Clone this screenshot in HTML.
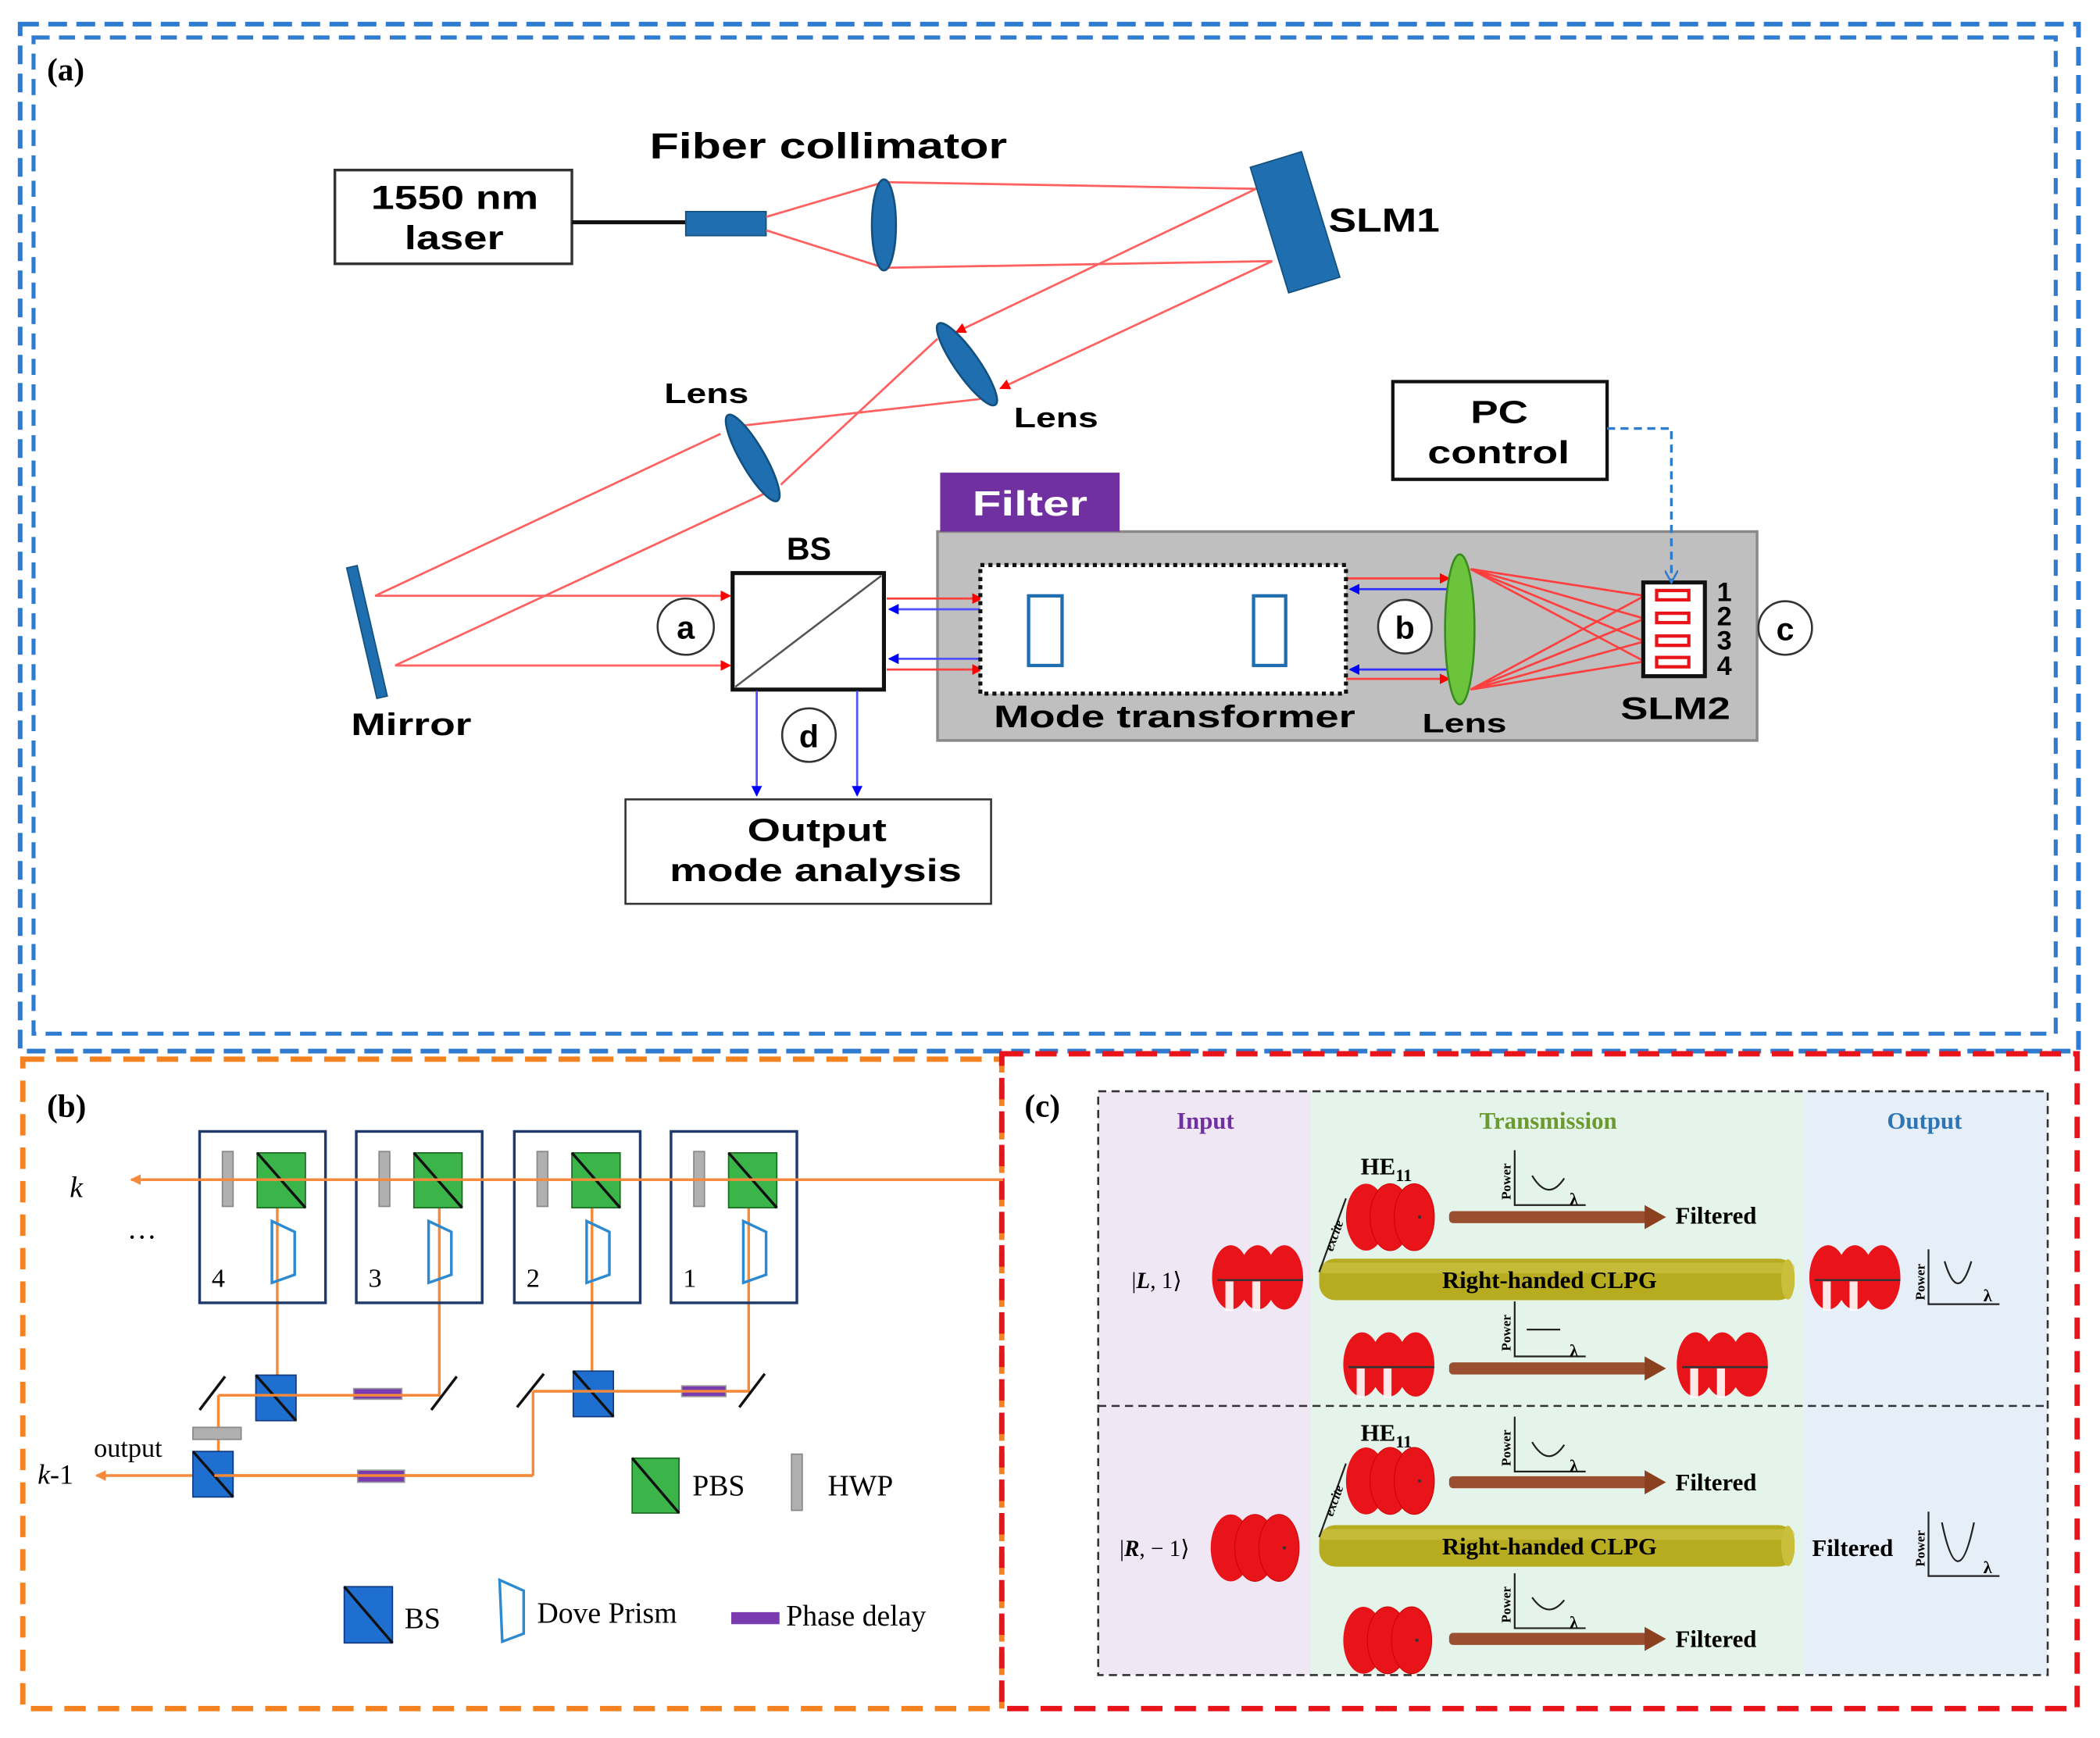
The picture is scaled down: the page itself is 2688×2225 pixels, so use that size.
<!DOCTYPE html>
<html><head><meta charset="utf-8"><style>
html,body{margin:0;padding:0;background:#fff}
svg{display:block}
.s{font-family:"Liberation Sans",sans-serif;font-weight:bold}
.r{font-family:"Liberation Serif",serif}
</style></head><body>
<svg width="2688" height="2225" viewBox="0 0 1568 1298" xmlns="http://www.w3.org/2000/svg">
<defs>
<marker id="ar" markerWidth="8" markerHeight="8" refX="7" refY="4" orient="auto" markerUnits="userSpaceOnUse"><path d="M0,0L8,4L0,8z" fill="#f00"/></marker>
<marker id="ab" markerWidth="8" markerHeight="8" refX="7" refY="4" orient="auto" markerUnits="userSpaceOnUse"><path d="M0,0L8,4L0,8z" fill="#00f"/></marker>
<marker id="ao" markerWidth="8" markerHeight="8" refX="7" refY="4" orient="auto" markerUnits="userSpaceOnUse"><path d="M0,0L8,4L0,8z" fill="#f58a3a"/></marker>
<marker id="abd" markerWidth="10" markerHeight="10" refX="8" refY="5" orient="auto" markerUnits="userSpaceOnUse"><path d="M0,0L9,5L0,10" fill="none" stroke="#2e7bd0" stroke-width="1.5"/></marker>
<g id="helix"><ellipse cx="12" cy="22" rx="14" ry="24" fill="#e8141a"/><ellipse cx="32" cy="22" rx="14" ry="24" fill="#e8141a"/><ellipse cx="52" cy="22" rx="14" ry="24" fill="#e8141a"/><line x1="2" y1="24" x2="66" y2="24" stroke="#333" stroke-width="1.5"/><rect x="8" y="25" width="6" height="22" fill="#fff" opacity="0.9"/><rect x="28" y="25" width="6" height="22" fill="#fff" opacity="0.9"/></g>
<g id="blob"><ellipse cx="14" cy="25" rx="15" ry="25" fill="#e8141a"/><ellipse cx="32" cy="25" rx="15" ry="25" fill="#e8141a" stroke="#c00" stroke-width="0.6"/><ellipse cx="50" cy="25" rx="15" ry="25" fill="#e8141a" stroke="#c00" stroke-width="0.6"/><circle cx="54" cy="25" r="1.2" fill="#333"/></g>
<g id="arr"><rect x="0" y="-4.5" width="148" height="9" fill="#9a5030" rx="3"/><path d="M146,-9L162,0L146,9z" fill="#8b4020"/></g>
<g id="cyl"><rect x="0" y="0" width="355" height="31" rx="12" fill="#b7ac1f"/><rect x="0" y="3" width="355" height="8" rx="4" fill="#cfc54a" opacity="0.6"/><ellipse cx="350" cy="15.5" rx="5" ry="15" fill="#c9bf3a"/></g>
</defs>

<!-- borders -->
<rect x="15" y="18" width="1537" height="767" fill="none" stroke="#2e7bd0" stroke-width="3.5" stroke-dasharray="14 7"/>
<rect x="25" y="28" width="1510" height="744" fill="none" stroke="#2e7bd0" stroke-width="3" stroke-dasharray="12 7"/>
<rect x="17" y="791" width="731" height="485" fill="none" stroke="#f58220" stroke-width="4" stroke-dasharray="16 9"/>
<rect x="748" y="787" width="803" height="489" fill="none" stroke="#e8141a" stroke-width="4" stroke-dasharray="16 9"/>

<!-- panel a -->
<text x="35" y="60" class="r" font-weight="bold" font-size="24">(a)</text>
<rect x="250" y="127" width="177" height="70" fill="#fff" stroke="#333" stroke-width="2"/>
<text x="277" y="156" class="s" font-size="25" textLength="125" lengthAdjust="spacingAndGlyphs">1550 nm</text>
<text x="302" y="186" class="s" font-size="25" textLength="74" lengthAdjust="spacingAndGlyphs">laser</text>
<line x1="427" y1="166" x2="512" y2="166" stroke="#111" stroke-width="3"/>
<rect x="512" y="158" width="60" height="18" fill="#1f6fb0" stroke="#12507f"/>
<text x="485" y="118" class="s" font-size="27" textLength="267" lengthAdjust="spacingAndGlyphs">Fiber collimator</text>
<g stroke="#ff6060" stroke-width="1.6" fill="none">
<line x1="572" y1="162" x2="660" y2="136"/><line x1="572" y1="172" x2="660" y2="200"/>
<line x1="660" y1="136" x2="938" y2="141"/><line x1="660" y1="200" x2="950" y2="195"/>
<line x1="938" y1="141" x2="714" y2="248" marker-end="url(#ar)"/>
<line x1="950" y1="195" x2="747" y2="290" marker-end="url(#ar)"/>
<line x1="700" y1="253" x2="583" y2="362"/><line x1="570" y1="369" x2="295" y2="497"/>
<line x1="732" y1="298" x2="553" y2="318"/><line x1="538" y1="324" x2="280" y2="445"/>
<line x1="280" y1="445" x2="545" y2="445" marker-end="url(#ar)"/>
<line x1="295" y1="497" x2="545" y2="497" marker-end="url(#ar)"/>
</g>
<ellipse cx="660" cy="168" rx="9" ry="34" fill="#1f6fb0" stroke="#12507f" stroke-width="1.5"/>
<rect x="947" y="117" width="40" height="98" fill="#1f6fb0" stroke="#12507f" transform="rotate(-17 967 166)"/>
<text x="992" y="173" class="s" font-size="25" textLength="83" lengthAdjust="spacingAndGlyphs">SLM1</text>
<ellipse cx="722" cy="272" rx="9" ry="37" fill="#1f6fb0" stroke="#12507f" stroke-width="1.5" transform="rotate(-35 722 272)"/>
<text x="757" y="319" class="s" font-size="21" textLength="63" lengthAdjust="spacingAndGlyphs">Lens</text>
<ellipse cx="562" cy="342" rx="9" ry="37" fill="#1f6fb0" stroke="#12507f" stroke-width="1.5" transform="rotate(-30 562 342)"/>
<text x="496" y="301" class="s" font-size="21" textLength="63" lengthAdjust="spacingAndGlyphs">Lens</text>
<rect x="270" y="422" width="8" height="100" fill="#1f6fb0" stroke="#12507f" transform="rotate(-13 274 472)"/>
<text x="262" y="549" class="s" font-size="23" textLength="90" lengthAdjust="spacingAndGlyphs">Mirror</text>
<rect x="547" y="428" width="113" height="87" fill="#fff" stroke="#111" stroke-width="3"/>
<line x1="549" y1="513" x2="658" y2="430" stroke="#555" stroke-width="1.5"/>
<text x="604" y="418" class="s" font-size="24" text-anchor="middle">BS</text>
<circle cx="512" cy="468" r="21" fill="#fff" stroke="#333" stroke-width="1.5"/>
<text x="512" y="477" class="s" font-size="24" text-anchor="middle">a</text>
<line x1="565" y1="516" x2="565" y2="594" stroke="#5050ff" stroke-width="1.6" marker-end="url(#ab)"/>
<line x1="640" y1="516" x2="640" y2="594" stroke="#5050ff" stroke-width="1.6" marker-end="url(#ab)"/>
<circle cx="604" cy="549" r="20" fill="#fff" stroke="#333" stroke-width="1.5"/>
<text x="604" y="558" class="s" font-size="24" text-anchor="middle">d</text>
<rect x="467" y="597" width="273" height="78" fill="#fff" stroke="#333" stroke-width="1.5"/>
<text x="558" y="628" class="s" font-size="24" textLength="104" lengthAdjust="spacingAndGlyphs">Output</text>
<text x="500" y="658" class="s" font-size="24" textLength="218" lengthAdjust="spacingAndGlyphs">mode analysis</text>
<!-- filter -->
<rect x="700" y="397" width="612" height="156" fill="#bfbfbf" stroke="#888" stroke-width="2"/>
<rect x="702" y="353" width="134" height="44" fill="#7030a0"/>
<text x="726" y="385" class="s" font-size="26" fill="#fff" textLength="86" lengthAdjust="spacingAndGlyphs">Filter</text>
<g stroke="#ff4040" stroke-width="1.6" fill="none">
<line x1="662" y1="447" x2="733" y2="447" marker-end="url(#ar)"/>
<line x1="662" y1="500" x2="733" y2="500" marker-end="url(#ar)"/>
<line x1="1005" y1="432" x2="1082" y2="432" marker-end="url(#ar)"/>
<line x1="1005" y1="507" x2="1082" y2="507" marker-end="url(#ar)"/>
<path d="M1098,425L1228,445M1098,425L1228,462M1098,425L1228,479M1098,425L1228,494M1098,515L1228,445M1098,515L1228,462M1098,515L1228,479M1098,515L1228,494"/>
</g>
<line x1="733" y1="455" x2="664" y2="455" stroke="#5050ff" stroke-width="1.6" marker-end="url(#ab)"/>
<line x1="733" y1="492" x2="664" y2="492" stroke="#5050ff" stroke-width="1.6" marker-end="url(#ab)"/>
<rect x="732" y="422" width="273" height="96" fill="#fff" stroke="#111" stroke-width="3" stroke-dasharray="3 3"/>
<rect x="768" y="445" width="25" height="52" fill="none" stroke="#1f6fb0" stroke-width="2.5"/>
<rect x="936" y="445" width="24" height="52" fill="none" stroke="#1f6fb0" stroke-width="2.5"/>
<text x="742" y="543" class="s" font-size="23" textLength="270" lengthAdjust="spacingAndGlyphs">Mode transformer</text>
<line x1="1082" y1="440" x2="1008" y2="440" stroke="#3030ff" stroke-width="1.6" marker-end="url(#ab)"/>
<line x1="1082" y1="500" x2="1008" y2="500" stroke="#3030ff" stroke-width="1.6" marker-end="url(#ab)"/>
<circle cx="1049" cy="468" r="20" fill="#fff" stroke="#333" stroke-width="1.5"/>
<text x="1049" y="477" class="s" font-size="24" text-anchor="middle">b</text>
<ellipse cx="1090" cy="470" rx="11" ry="56" fill="#6cc43c" stroke="#3a8a20" stroke-width="1.5"/>
<text x="1062" y="547" class="s" font-size="20" textLength="63" lengthAdjust="spacingAndGlyphs">Lens</text>
<rect x="1227" y="435" width="46" height="70" fill="#fff" stroke="#111" stroke-width="3"/>
<g fill="#fff" stroke="#e8141a" stroke-width="2.5"><rect x="1237" y="441" width="24" height="7"/><rect x="1237" y="458" width="24" height="7"/><rect x="1237" y="475" width="24" height="7"/><rect x="1237" y="491" width="24" height="7"/></g>
<g class="s" font-size="20"><text x="1282" y="449">1</text><text x="1282" y="467">2</text><text x="1282" y="485">3</text><text x="1282" y="504">4</text></g>
<text x="1210" y="537" class="s" font-size="23" textLength="82" lengthAdjust="spacingAndGlyphs">SLM2</text>
<circle cx="1333" cy="469" r="20" fill="#fff" stroke="#333" stroke-width="1.5"/>
<text x="1333" y="478" class="s" font-size="24" text-anchor="middle">c</text>
<rect x="1040" y="285" width="160" height="73" fill="#fff" stroke="#111" stroke-width="2.5"/>
<text x="1098" y="316" class="s" font-size="24" textLength="43" lengthAdjust="spacingAndGlyphs">PC</text>
<text x="1066" y="346" class="s" font-size="24" textLength="106" lengthAdjust="spacingAndGlyphs">control</text>
<path d="M1200,320H1248V434" fill="none" stroke="#2e7bd0" stroke-width="2" stroke-dasharray="6 4" marker-end="url(#abd)"/>

<!-- panel b -->
<text x="35" y="834" class="r" font-weight="bold" font-size="24">(b)</text>
<g stroke="#f58a3a" stroke-width="2" fill="none">
<line x1="749" y1="881" x2="98" y2="881" marker-end="url(#ao)"/>
<path d="M207,881V1042"/><path d="M163,1042H328V881"/><path d="M163,1042V1101"/>
<path d="M442,881V1039"/><path d="M398,1039H559V881"/><path d="M398,1039V1102"/>
<line x1="398" y1="1102" x2="72" y2="1102" marker-end="url(#ao)"/>
</g>
<g>
<g id="mod">
<rect x="149" y="845" width="94" height="128" fill="none" stroke="#1f3a6a" stroke-width="2"/>
<rect x="166" y="860" width="8" height="41" fill="#b0b0b0" stroke="#888"/>
<rect x="192" y="861" width="36" height="41" fill="#3bb54a" stroke="#1a6a20"/>
<line x1="192" y1="861" x2="228" y2="902" stroke="#111" stroke-width="2"/>
<path d="M203,912L220,920V952L203,958Z" fill="none" stroke="#2e8ad0" stroke-width="2"/>
</g>
<use href="#mod" x="117"/><use href="#mod" x="235"/><use href="#mod" x="352"/>
</g>
<line x1="98" y1="881" x2="749" y2="881" stroke="#f58a3a" stroke-width="2"/>
<g class="r" font-size="20"><text x="158" y="961">4</text><text x="275" y="961">3</text><text x="393" y="961">2</text><text x="510" y="961">1</text></g>
<text x="52" y="894" class="r" font-style="italic" font-size="22">k</text>
<text x="95" y="925" class="r" font-size="22">…</text>
<g stroke="#111" stroke-width="2"><line x1="149" y1="1053" x2="168" y2="1028"/><line x1="322" y1="1053" x2="341" y2="1028"/><line x1="386" y1="1051" x2="406" y2="1026"/><line x1="552" y1="1051" x2="571" y2="1026"/></g>
<g id="bsq"><rect x="191" y="1027" width="30" height="34" fill="#1f6fd0" stroke="#103a80"/><line x1="191" y1="1027" x2="221" y2="1061" stroke="#111" stroke-width="2"/></g>
<use href="#bsq" x="237" y="-3"/><use href="#bsq" x="-47" y="57"/>
<g fill="#7a3ab0" stroke="#999"><rect x="264" y="1037" width="36" height="8"/><rect x="509" y="1035" width="33" height="8"/><rect x="267" y="1098" width="35" height="9"/></g>
<g stroke="#f58a3a" stroke-width="2"><line x1="163" y1="1042" x2="328" y2="1042"/><line x1="398" y1="1039" x2="559" y2="1039"/><line x1="160" y1="1102" x2="398" y2="1102"/></g>
<rect x="144" y="1066" width="36" height="9" fill="#b0b0b0" stroke="#888"/>
<text x="70" y="1088" class="r" font-size="20">output</text>
<text x="28" y="1108" class="r" font-size="21"><tspan font-style="italic">k</tspan>-1</text>
<rect x="472" y="1089" width="35" height="41" fill="#3bb54a" stroke="#1a6a20"/><line x1="472" y1="1089" x2="507" y2="1130" stroke="#111" stroke-width="2"/>
<text x="517" y="1117" class="r" font-size="22">PBS</text>
<rect x="591" y="1086" width="8" height="42" fill="#b0b0b0" stroke="#888"/>
<text x="618" y="1117" class="r" font-size="22">HWP</text>
<rect x="257" y="1185" width="36" height="42" fill="#1f6fd0" stroke="#103a80"/><line x1="257" y1="1185" x2="293" y2="1227" stroke="#111" stroke-width="2"/>
<text x="302" y="1216" class="r" font-size="22">BS</text>
<path d="M373,1180L391,1188V1220L375,1226Z" fill="none" stroke="#2e8ad0" stroke-width="2"/>
<text x="401" y="1212" class="r" font-size="22">Dove Prism</text>
<rect x="546" y="1204" width="36" height="9" fill="#7a3ab0"/>
<text x="587" y="1214" class="r" font-size="22">Phase delay</text>

<!-- panel c -->
<text x="765" y="834" class="r" font-weight="bold" font-size="24">(c)</text>
<rect x="820" y="815" width="159" height="436" fill="#efe7f4"/>
<rect x="979" y="815" width="368" height="436" fill="#e5f4ea"/>
<rect x="1347" y="815" width="182" height="436" fill="#e6eef8"/>
<rect x="820" y="815" width="709" height="436" fill="none" stroke="#333" stroke-width="1.5" stroke-dasharray="6 4"/>
<line x1="820" y1="1050" x2="1529" y2="1050" stroke="#333" stroke-width="1.5" stroke-dasharray="6 4"/>
<g class="r" font-weight="bold" font-size="18" text-anchor="middle"><text x="900" y="843" fill="#7030a0">Input</text><text x="1156" y="843" fill="#6a9a30">Transmission</text><text x="1437" y="843" fill="#2e75b6">Output</text></g>
<g class="r" font-weight="bold" font-size="18">
<text x="1016" y="877">HE<tspan font-size="13" dy="5">11</tspan></text>
<text x="1016" y="1076">HE<tspan font-size="13" dy="5">11</tspan></text>
<text x="1251" y="914">Filtered</text><text x="1251" y="1113">Filtered</text><text x="1251" y="1230">Filtered</text>
<text x="1353" y="1162">Filtered</text>
</g>
<use href="#blob" x="1006" y="884"/><use href="#blob" x="1006" y="1081"/>
<use href="#arr" x="1082" y="909"/><use href="#arr" x="1082" y="1022"/><use href="#arr" x="1082" y="1107"/><use href="#arr" x="1082" y="1224"/>
<use href="#cyl" x="985" y="940"/><use href="#cyl" x="985" y="1139"/>
<g class="r" font-weight="bold" font-size="18" text-anchor="middle"><text x="1157" y="962">Right-handed CLPG</text><text x="1157" y="1161">Right-handed CLPG</text></g>
<g class="r" font-size="17"><text x="845" y="962">|<tspan font-style="italic" font-weight="bold">L</tspan>, 1⟩</text><text x="836" y="1162">|<tspan font-style="italic" font-weight="bold">R</tspan>, − 1⟩</text></g>
<use href="#helix" x="907" y="932"/><use href="#helix" x="1005" y="997"/><use href="#helix" x="1254" y="997"/><use href="#helix" x="1353" y="932"/>
<use href="#blob" x="905" y="1131"/><use href="#blob" x="1004" y="1200"/>
<g stroke="#222" stroke-width="1.3" fill="none">
<line x1="985" y1="950" x2="1005" y2="895"/><line x1="985" y1="1148" x2="1005" y2="1093"/>
<path d="M1131,859V900H1184"/><path d="M1144,878Q1156,898 1168,880"/>
<path d="M1131,972V1013H1184"/><path d="M1140,993H1165"/>
<path d="M1131,1058V1099H1184"/><path d="M1144,1077Q1156,1097 1168,1079"/>
<path d="M1131,1175V1216H1184"/><path d="M1144,1193Q1156,1210 1168,1195"/>
<path d="M1440,933V974H1493"/><path d="M1452,942Q1462,975 1472,942"/>
<path d="M1440,1129V1177H1493"/><path d="M1450,1137Q1462,1195 1474,1137"/>
</g>
<g class="r" font-weight="bold" font-size="10">
<text transform="translate(1128,896) rotate(-90)">Power</text><text transform="translate(1128,1009) rotate(-90)">Power</text>
<text transform="translate(1128,1095) rotate(-90)">Power</text><text transform="translate(1128,1212) rotate(-90)">Power</text>
<text transform="translate(1437,971) rotate(-90)">Power</text><text transform="translate(1437,1170) rotate(-90)">Power</text>
<text transform="translate(995,935) rotate(-70)" font-style="italic">excite</text><text transform="translate(995,1133) rotate(-70)" font-style="italic">excite</text>
</g>
<g class="r" font-weight="bold" font-size="13"><text x="1172" y="900">λ</text><text x="1172" y="1013">λ</text><text x="1172" y="1099">λ</text><text x="1172" y="1216">λ</text><text x="1481" y="972">λ</text><text x="1481" y="1175">λ</text></g>
</svg>
</body></html>
